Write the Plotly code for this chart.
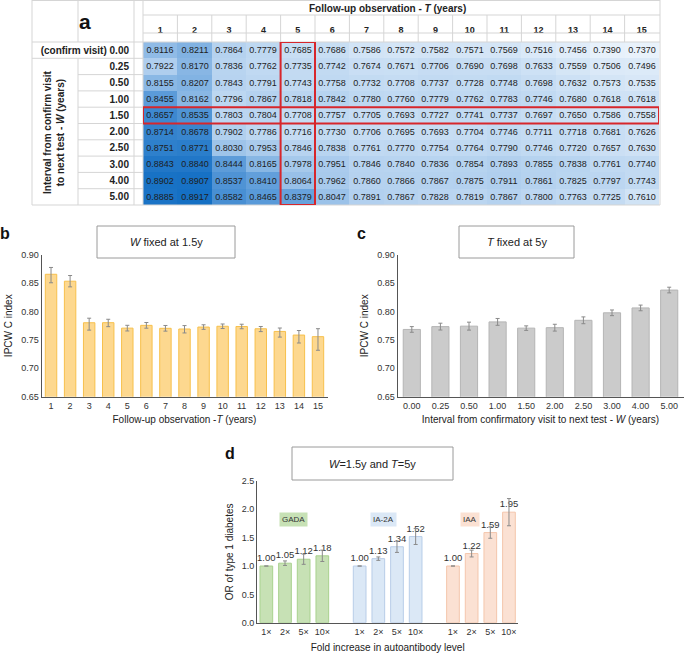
import plotly.graph_objects as go

W, H = 684, 653
FONT = "Liberation Sans, Arial, Helvetica, sans-serif"

# ---- data ----
follow_up_years = list(range(1, 16))
interval_labels = ["0.00", "0.25", "0.50", "1.00", "1.50", "2.00", "2.50", "3.00", "4.00", "5.00"]

# IPCW C index, rows = interval W, columns = follow-up T
c_index_table = [
    [0.8116, 0.8211, 0.7864, 0.7779, 0.7685, 0.7686, 0.7586, 0.7572, 0.7582, 0.7571, 0.7569, 0.7516, 0.7456, 0.7390, 0.7370],
    [0.7922, 0.8170, 0.7836, 0.7762, 0.7735, 0.7742, 0.7674, 0.7671, 0.7706, 0.7690, 0.7698, 0.7633, 0.7559, 0.7506, 0.7496],
    [0.8155, 0.8207, 0.7843, 0.7791, 0.7743, 0.7758, 0.7732, 0.7708, 0.7737, 0.7728, 0.7748, 0.7698, 0.7632, 0.7573, 0.7535],
    [0.8455, 0.8162, 0.7796, 0.7867, 0.7818, 0.7842, 0.7780, 0.7760, 0.7779, 0.7762, 0.7783, 0.7746, 0.7680, 0.7618, 0.7618],
    [0.8657, 0.8535, 0.7803, 0.7804, 0.7708, 0.7757, 0.7705, 0.7693, 0.7727, 0.7741, 0.7737, 0.7697, 0.7650, 0.7586, 0.7558],
    [0.8714, 0.8678, 0.7902, 0.7786, 0.7716, 0.7730, 0.7706, 0.7695, 0.7693, 0.7704, 0.7746, 0.7711, 0.7718, 0.7681, 0.7626],
    [0.8751, 0.8771, 0.8030, 0.7953, 0.7846, 0.7838, 0.7761, 0.7770, 0.7754, 0.7764, 0.7790, 0.7746, 0.7720, 0.7657, 0.7630],
    [0.8843, 0.8840, 0.8444, 0.8165, 0.7978, 0.7951, 0.7846, 0.7840, 0.7836, 0.7854, 0.7893, 0.7855, 0.7838, 0.7761, 0.7740],
    [0.8902, 0.8907, 0.8537, 0.8410, 0.8064, 0.7962, 0.7860, 0.7866, 0.7867, 0.7875, 0.7911, 0.7861, 0.7825, 0.7797, 0.7743],
    [0.8885, 0.8917, 0.8582, 0.8465, 0.8379, 0.8047, 0.7891, 0.7867, 0.7828, 0.7819, 0.7867, 0.7800, 0.7763, 0.7725, 0.7610],
]

# panel b: W fixed at 1.5y (row "1.50"), panel c: T fixed at 5y (column 5)
w_fixed_values = c_index_table[4]
w_fixed_err_plus = [0.012, 0.010, 0.008, 0.006, 0.005, 0.005, 0.005, 0.006, 0.004, 0.004, 0.004, 0.004, 0.006, 0.008, 0.014]
w_fixed_err_minus = [0.015, 0.010, 0.013, 0.007, 0.005, 0.005, 0.005, 0.007, 0.004, 0.004, 0.004, 0.005, 0.010, 0.014, 0.024]

t_fixed_values = [row[4] for row in c_index_table]
t_fixed_err = [0.005, 0.006, 0.007, 0.006, 0.004, 0.006, 0.006, 0.005, 0.005, 0.005]

# panel d: odds ratios
fold_labels = ["1×", "2×", "5×", "10×"]
antibodies = ["GADA", "IA-2A", "IAA"]
or_values = {
    "GADA": [1.00, 1.05, 1.12, 1.18],
    "IA-2A": [1.00, 1.13, 1.34, 1.52],
    "IAA": [1.00, 1.22, 1.59, 1.95],
}
or_err = {
    "GADA": [0.0, 0.04, 0.09, 0.10],
    "IA-2A": [0.0, 0.03, 0.10, 0.14],
    "IAA": [0.0, 0.06, 0.10, 0.24],
}
ab_fill = {"GADA": "#c7e1b5", "IA-2A": "#dbe8f6", "IAA": "#fbe1d3"}
ab_line = {"GADA": "#a9d18e", "IA-2A": "#b8cde8", "IAA": "#f4c6ac"}


def px(x):
    return x / W


def py(y):
    return 1 - y / H


fig = go.Figure()

# ---- panel a: heatmap table ----
fig.add_trace(go.Heatmap(
    z=c_index_table, x=follow_up_years, y=list(range(len(interval_labels))),
    colorscale=[[0, "#e9f2fb"], [0.35, "#b0cfee"], [0.7, "#5b9bd9"], [1, "#1570c4"]],
    zmin=0.737, zmax=0.892, showscale=False,
    texttemplate="%{z:.4f}", textfont=dict(size=9, color="#1e1e1e", family=FONT),
    hoverinfo="skip", xaxis="x", yaxis="y",
))

err_style = dict(type="data", color="#8a8a8a", thickness=1, width=2)

# ---- panel b ----
fig.add_trace(go.Bar(
    x=[str(t) for t in follow_up_years], y=w_fixed_values,
    marker=dict(color="#fdd88f", line=dict(color="#f7c04c", width=1)),
    error_y=dict(array=w_fixed_err_plus, arrayminus=w_fixed_err_minus, **err_style),
    xaxis="x2", yaxis="y2", hoverinfo="skip",
))

# ---- panel c ----
fig.add_trace(go.Bar(
    x=interval_labels, y=t_fixed_values,
    marker=dict(color="#cbcbcb", line=dict(color="#b5b5b5", width=1)),
    error_y=dict(array=t_fixed_err, **err_style),
    xaxis="x3", yaxis="y3", hoverinfo="skip",
))

# ---- panel d ----
d_tickvals, d_ticktext = [], []
for g, ab in enumerate(antibodies):
    xpos = [g * (len(fold_labels) + 1) + i for i in range(len(fold_labels))]
    d_tickvals += xpos
    d_ticktext += fold_labels
    fig.add_trace(go.Bar(
        x=xpos, y=or_values[ab], width=0.68,
        marker=dict(color=ab_fill[ab], line=dict(color=ab_line[ab], width=1)),
        error_y=dict(array=or_err[ab], **err_style),
        text=[f"{v:.2f}" for v in or_values[ab]], textposition="outside", constraintext="none",
        textfont=dict(size=9.5, color="#333333", family=FONT), cliponaxis=False,
        xaxis="x4", yaxis="y4", hoverinfo="skip",
    ))

tick_font = dict(size=9, color="#333333", family=FONT)
title_font = dict(size=10, color="#222222", family=FONT)
axis_common = dict(showgrid=False, zeroline=False, showline=True, linecolor="#555555",
                   linewidth=1, ticks="", tickfont=tick_font, automargin=False)

fig.update_layout(
    width=W, height=H, margin=dict(l=0, r=0, t=0, b=0, autoexpand=False),
    paper_bgcolor="white", plot_bgcolor="white", showlegend=False,
    font=dict(family=FONT, color="#222222"),
    bargap=0.4,
    xaxis=dict(domain=[px(143), px(659)], range=[0.5, 15.5], side="top",
               tickvals=follow_up_years, ticktext=[f"<b>{t}</b>" for t in follow_up_years],
               tickfont=dict(size=9, color="#222222", family=FONT), ticks="",
               ticklabelstandoff=6, showgrid=False, zeroline=False, showline=False, automargin=False),
    yaxis=dict(domain=[py(205), py(42)], range=[len(interval_labels) - 0.5, -0.5],
               tickvals=list(range(len(interval_labels))),
               ticktext=["<b>(confirm visit) 0.00</b>"] + [f"<b>{w}</b>" for w in interval_labels[1:]],
               tickfont=dict(size=10, color="#222222", family=FONT), ticks="",
               ticklabelstandoff=13, showgrid=False, zeroline=False, showline=False, automargin=False),
    xaxis2=dict(domain=[px(41.5), px(327.5)], anchor="y2", **axis_common,
                title=dict(text="Follow-up observation -<i>T</i> (years)", font=title_font, standoff=6)),
    yaxis2=dict(domain=[py(396.7), py(254.8)], anchor="x2", range=[0.65, 0.90], dtick=0.05,
                tickformat=".2f", **axis_common,
                title=dict(text="IPCW C index", font=title_font, standoff=6)),
    xaxis3=dict(domain=[px(397.5), px(683.5)], anchor="y3", **axis_common,
                title=dict(text="Interval from confirmatory visit to next test - <i>W</i> (years)",
                           font=title_font, standoff=6)),
    yaxis3=dict(domain=[py(396.7), py(254.8)], anchor="x3", range=[0.65, 0.90], dtick=0.05,
                tickformat=".2f", **axis_common,
                title=dict(text="IPCW C index", font=title_font, standoff=6)),
    xaxis4=dict(domain=[px(257), px(518.3)], anchor="y4", range=[-0.5, 13.5],
                tickvals=d_tickvals, ticktext=d_ticktext, **axis_common,
                title=dict(text="Fold increase in autoantibody level", font=title_font, standoff=8)),
    yaxis4=dict(domain=[py(622.7), py(481)], anchor="x4", range=[0, 2.5], dtick=0.5,
                tickformat=".1f", **axis_common,
                title=dict(text="OR of type 1 diabetes", font=title_font, standoff=6)),
)

# ---- table grid lines ----
grid = dict(color="#d5d5d5", width=1)
row_h = (205 - 42) / len(interval_labels)
col_w = (659 - 143) / len(follow_up_years)
lines = [
    (32, 0.5, 660, 0.5), (32, 205, 660, 205), (143, 15, 660, 15), (143, 33, 660, 33), (32, 42, 660, 42),
    (32, 0, 32, 205), (660, 0, 660, 205), (134, 0, 134, 205), (143, 0, 143, 205),
    (78, 0, 78, 42), (78, 42 + row_h, 78, 205), (32, 42 + row_h, 78, 42 + row_h),
]
for k in range(1, len(interval_labels)):
    lines.append((78, 42 + k * row_h, 143, 42 + k * row_h))
for k in range(1, len(follow_up_years)):
    lines.append((143 + k * col_w, 15, 143 + k * col_w, 42))
for x0, y0, x1, y1 in lines:
    fig.add_shape(type="line", xref="paper", yref="paper",
                  x0=px(x0), y0=py(y0), x1=px(x1), y1=py(y1), line=grid)

# red highlight boxes: T = 5 column and W = 1.50 row
red = dict(color="#d7262b", width=2)
fig.add_shape(type="rect", xref="x", yref="y", x0=4.5, x1=5.5, y0=-0.5, y1=len(interval_labels) - 0.5, line=red)
fig.add_shape(type="rect", xref="x", yref="y", x0=0.5, x1=15.5, y0=3.5, y1=4.5, line=red)

annotations = [
    dict(x=px(85), y=py(22), text="<b>a</b>", font=dict(size=21, color="#111111")),
    dict(x=px(387), y=py(9), text="<b>Follow-up observation - <i>T</i> (years)</b>", font=dict(size=10)),
    dict(x=px(54), y=py(133), text="<b>Interval from confirm visit<br>to next test - <i>W</i> (years)</b>",
         textangle=-90, font=dict(size=10)),
    dict(x=px(5), y=py(233), text="<b>b</b>", font=dict(size=16, color="#111111")),
    dict(x=px(361), y=py(233), text="<b>c</b>", font=dict(size=16, color="#111111")),
    dict(x=px(230), y=py(453), text="<b>d</b>", font=dict(size=16, color="#111111")),
    dict(x=px(166), y=py(242), text="<i>W</i> fixed at 1.5y", font=dict(size=11)),
    dict(x=px(517), y=py(242), text="<i>T</i> fixed at 5y", font=dict(size=11)),
    dict(x=px(372), y=py(464), text="<i>W</i>=1.5y and <i>T</i>=5y", font=dict(size=11)),
]
# antibody name tags in panel d
for ab, cx in zip(antibodies, [293, 383, 470]):
    annotations.append(dict(x=px(cx), y=py(519), text=ab, font=dict(size=8, color="#333333"),
                            bgcolor=ab_fill[ab], borderpad=2))
for a in annotations:
    a.update(xref="paper", yref="paper", xanchor="center", yanchor="middle", showarrow=False)
    fig.add_annotation(**a)

# title boxes
for x0, y0, x1, y1 in [(97, 226, 235, 258), (459, 226, 574, 258), (292, 447, 453, 480)]:
    fig.add_shape(type="rect", xref="paper", yref="paper",
                  x0=px(x0), y0=py(y1), x1=px(x1), y1=py(y0), line=dict(color="#9a9a9a", width=1))

fig.write_html("out.html", config={"displayModeBar": False},
               post_script="document.body.style.margin='0';")
